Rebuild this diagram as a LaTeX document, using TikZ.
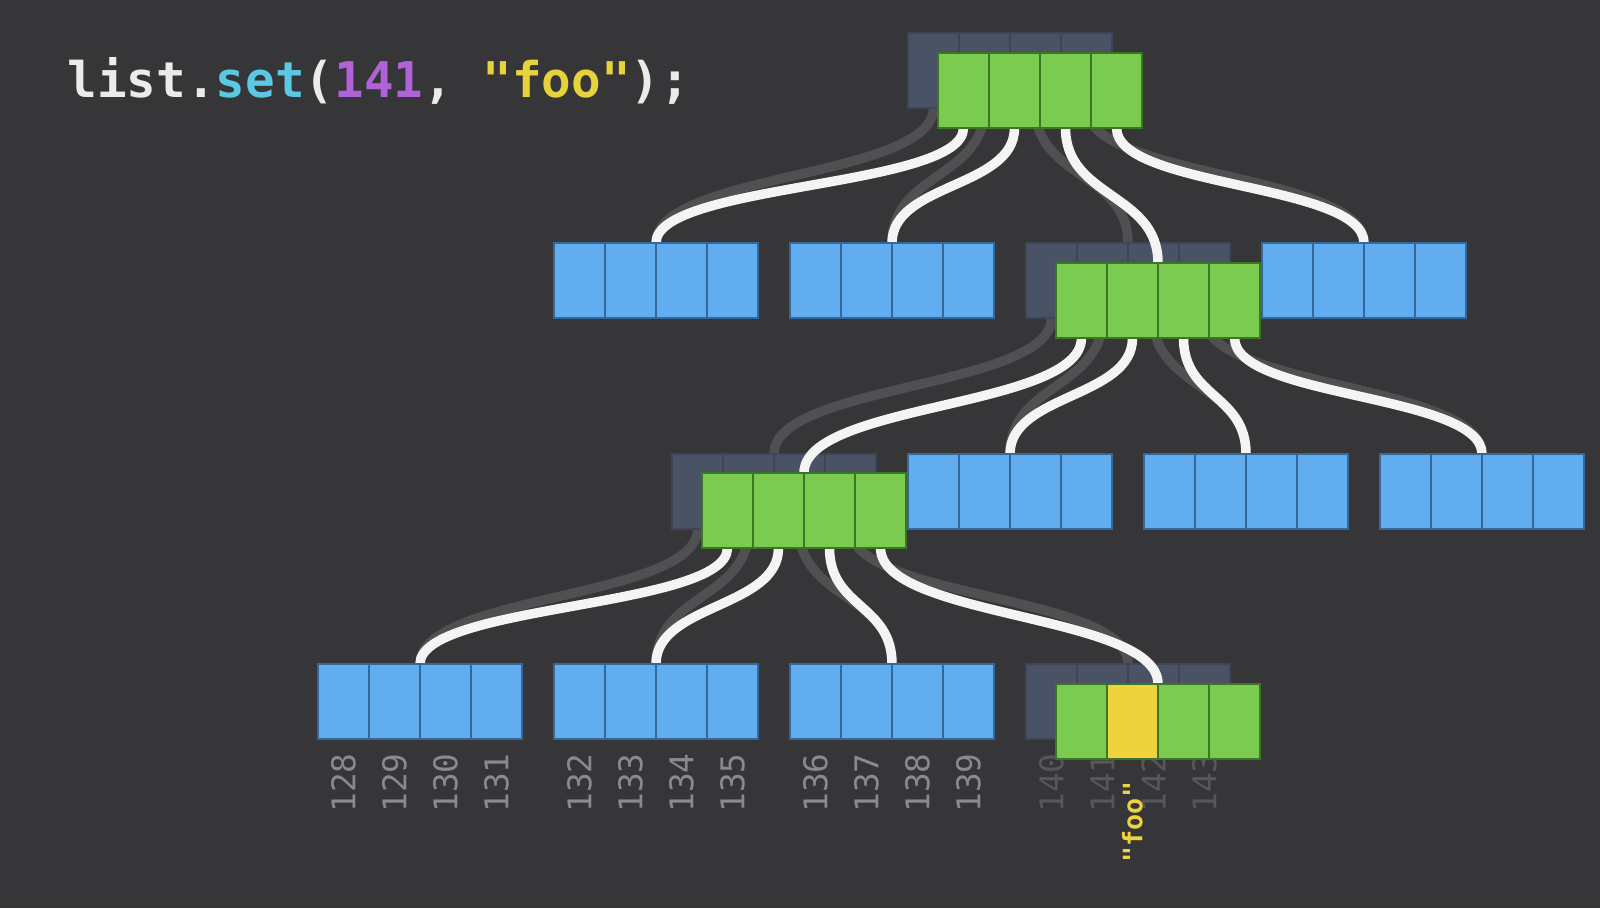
\documentclass[tikz,border=0pt]{standalone}
\usepackage{fontspec}
\newfontfamily\codefont{DejaVu Sans Mono}
\definecolor{bg}{HTML}{363538}
\definecolor{oldfill}{HTML}{4A5266}
\definecolor{oldline}{HTML}{3E4556}
\definecolor{leaffill}{HTML}{62ACF0}
\definecolor{leafline}{HTML}{34679A}
\definecolor{newfill}{HTML}{7BCB50}
\definecolor{newline}{HTML}{3D7526}
\definecolor{hitfill}{HTML}{EFD33C}
\definecolor{wirecol}{HTML}{F4F4F4}
\definecolor{ghostcol}{HTML}{505053}
\definecolor{idxcol}{HTML}{8A8A8D}
\definecolor{idxdim}{HTML}{57575A}
\definecolor{fncol}{HTML}{5BC8E4}
\definecolor{numcol}{HTML}{B062D8}
\definecolor{strcol}{HTML}{E6D23A}
\pgfdeclarelayer{bgl}
\pgfdeclarelayer{ghost}
\pgfdeclarelayer{old}
\pgfdeclarelayer{wires}
\pgfsetlayers{bgl,ghost,old,wires,main}
\tikzset{
  blk/.style={draw=#1, minimum width=2.04cm, minimum height=0.75cm, inner sep=0pt, outer sep=0pt,
    line width=0.6pt,
    path picture={\foreach \k in {1,2,3}
      \draw[#1, line width=0.6pt] ([xshift=0.51cm*\k]path picture bounding box.south west)
        -- ([xshift=0.51cm*\k]path picture bounding box.north west);}},
  old/.style={blk=oldline, fill=oldfill},
  leaf/.style={blk=leafline, fill=leaffill},
  new/.style={blk=newline, fill=newfill},
  hit/.style={draw=newline, fill=hitfill, line width=0.6pt, minimum width=0.51cm, minimum height=0.75cm,
    inner sep=0pt, outer sep=0pt},
  wire/.style={line width=2.7pt, draw=wirecol},
  ghost/.style={line width=2.7pt, draw=ghostcol},
  idx/.style={font=\codefont\fontsize{9.3pt}{10pt}\selectfont, text=idxcol, rotate=90, inner sep=0pt},
  code/.style={font=\codefont\bfseries\fontsize{14pt}{16pt}\selectfont, text=white!92!black, inner sep=0pt}
}

\begin{document}
\begin{tikzpicture}[x=0.01cm, y=-0.01cm]
  \begin{pgfonlayer}{bgl}
    \fill[bg] (0,0) rectangle (1600,908);
  \end{pgfonlayer}
  \useasboundingbox (0,0) rectangle (1600,908);

  \node[code, anchor=base west] (call) at (67,97)
    {list.\textcolor{fncol}{set}(\textcolor{numcol}{141}, \textcolor{strcol}{"foo"});};

  % old path
  \begin{pgfonlayer}{old}
    \node[old] (R0s) at (1010,70.5)  {};
    \node[old] (R1s) at (1128,280.5) {};
    \node[old] (R2s) at (774,491.5)  {};
    \node[old] (R3s) at (1128,701.5) {};
    \foreach \i in {0,...,3}{
      \pgfmathtruncatemacro\num{140+\i}
      \node[idx, text=idxdim] (n\num) at ([xshift=0.255cm+0.51cm*\i, yshift=-0.44cm]R3s.south west) {\num};
    }
  \end{pgfonlayer}

  % new path and shared leaves
  \node[new]  (R0)  at (1040,90.5)  {};
  \node[leaf] (B1a) at (656,280.5)  {};
  \node[leaf] (B1b) at (892,280.5)  {};
  \node[new]  (R1)  at (1158,300.5) {};
  \node[leaf] (B1d) at (1364,280.5) {};
  \node[new]  (R2)  at (804,510.5)  {};
  \node[leaf] (B2b) at (1010,491.5) {};
  \node[leaf] (B2c) at (1246,491.5) {};
  \node[leaf] (B2d) at (1482,491.5) {};
  \node[leaf] (B3a) at (420,701.5)  {};
  \node[leaf] (B3b) at (656,701.5)  {};
  \node[leaf] (B3c) at (892,701.5)  {};
  \node[new]  (R3)  at (1158,721.5) {};
  \node[hit]  (c141) at ([xshift=-0.255cm]R3.center) {};

  \begin{pgfonlayer}{ghost}
    \draw[ghost] ([xshift=-0.765cm]R0s.south) .. controls +(0,70) and +(0,-70) .. (B1a.north);
    \draw[ghost] ([xshift=-0.255cm]R0s.south) .. controls +(0,70) and +(0,-70) .. (B1b.north);
    \draw[ghost] ([xshift=0.255cm]R0s.south)  .. controls +(0,70) and +(0,-70) .. (R1s.north);
    \draw[ghost] ([xshift=0.765cm]R0s.south)  .. controls +(0,70) and +(0,-70) .. (B1d.north);
    \draw[ghost] ([xshift=-0.765cm]R1s.south) .. controls +(0,70) and +(0,-70) .. (R2s.north);
    \draw[ghost] ([xshift=-0.255cm]R1s.south) .. controls +(0,70) and +(0,-70) .. (B2b.north);
    \draw[ghost] ([xshift=0.255cm]R1s.south)  .. controls +(0,70) and +(0,-70) .. (B2c.north);
    \draw[ghost] ([xshift=0.765cm]R1s.south)  .. controls +(0,70) and +(0,-70) .. (B2d.north);
    \draw[ghost] ([xshift=-0.765cm]R2s.south) .. controls +(0,70) and +(0,-70) .. (B3a.north);
    \draw[ghost] ([xshift=-0.255cm]R2s.south) .. controls +(0,70) and +(0,-70) .. (B3b.north);
    \draw[ghost] ([xshift=0.255cm]R2s.south)  .. controls +(0,70) and +(0,-70) .. (B3c.north);
    \draw[ghost] ([xshift=0.765cm]R2s.south)  .. controls +(0,70) and +(0,-70) .. (R3s.north);
  \end{pgfonlayer}

  \begin{pgfonlayer}{wires}
    \draw[wire] ([xshift=-0.765cm]R0.south) .. controls +(0,60) and +(0,-60) .. (B1a.north);
    \draw[wire] ([xshift=-0.255cm]R0.south) .. controls +(0,60) and +(0,-60) .. (B1b.north);
    \draw[wire] ([xshift=0.255cm]R0.south)  .. controls +(0,70) and +(0,-70) .. (R1.north);
    \draw[wire] ([xshift=0.765cm]R0.south)  .. controls +(0,60) and +(0,-60) .. (B1d.north);
    \draw[wire] ([xshift=-0.765cm]R1.south) .. controls +(0,70) and +(0,-70) .. (R2.north);
    \draw[wire] ([xshift=-0.255cm]R1.south) .. controls +(0,60) and +(0,-60) .. (B2b.north);
    \draw[wire] ([xshift=0.255cm]R1.south)  .. controls +(0,60) and +(0,-60) .. (B2c.north);
    \draw[wire] ([xshift=0.765cm]R1.south)  .. controls +(0,60) and +(0,-60) .. (B2d.north);
    \draw[wire] ([xshift=-0.765cm]R2.south) .. controls +(0,60) and +(0,-60) .. (B3a.north);
    \draw[wire] ([xshift=-0.255cm]R2.south) .. controls +(0,60) and +(0,-60) .. (B3b.north);
    \draw[wire] ([xshift=0.255cm]R2.south)  .. controls +(0,60) and +(0,-60) .. (B3c.north);
    \draw[wire] ([xshift=0.765cm]R2.south)  .. controls +(0,70) and +(0,-70) .. (R3.north);
  \end{pgfonlayer}

  % indices
  \foreach \b/\s in {B3a/128, B3b/132, B3c/136}{
    \foreach \i in {0,...,3}{
      \pgfmathtruncatemacro\num{\s+\i}
      \node[idx] (n\num) at ([xshift=0.255cm+0.51cm*\i, yshift=-0.44cm]\b.south west) {\num};
    }
  }
  \node[idx, text=hitfill, font=\codefont\bfseries\fontsize{7.6pt}{9pt}\selectfont] (val)
    at ([yshift=-0.63cm]c141.south) {"foo"};
\end{tikzpicture}
\end{document}
